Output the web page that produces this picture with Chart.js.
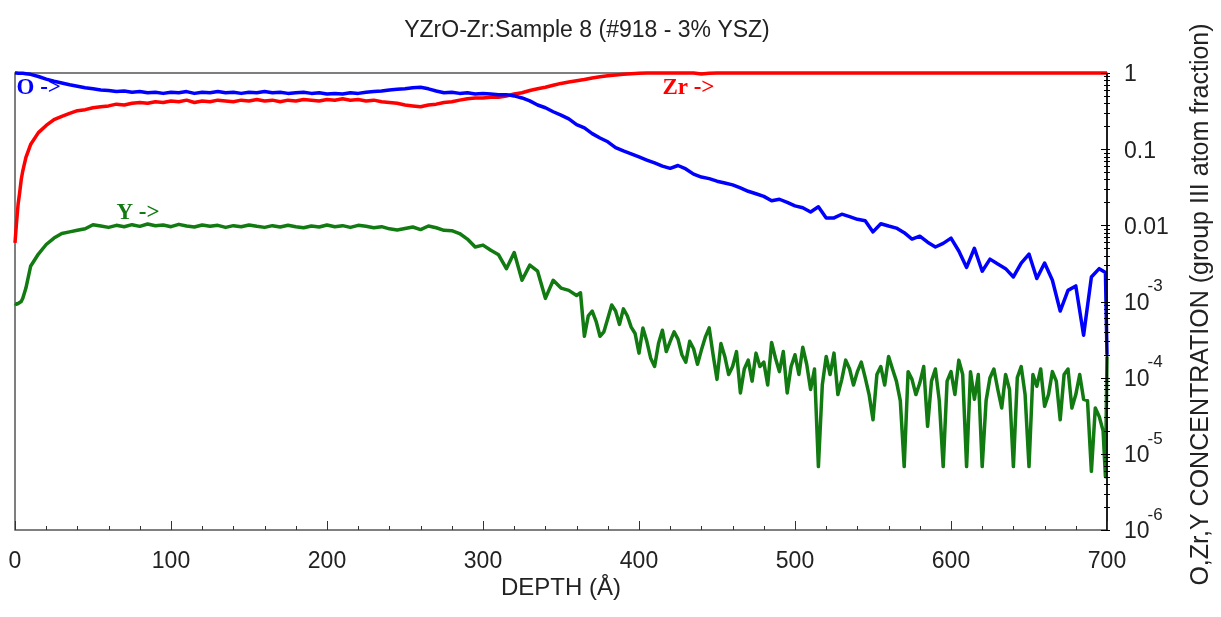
<!DOCTYPE html>
<html lang="en">
<head>
<meta charset="UTF-8">
<title>YZrO-Zr:Sample 8 (#918 - 3% YSZ)</title>
<script src="https://cdn.jsdelivr.net/npm/chart.js"></script>
<style>
  body { margin: 0; background: #fff; }
</style>
</head>
<body>
<canvas id="grafica" width="1221" height="617"></canvas>
<script>
// depth in Angstrom (O and Zr profiles)
const depth = [
  0, 1, 2, 3, 4, 5, 7, 10,
  15, 20, 25, 30, 35, 40, 45, 50, 55, 60,
  65, 70, 75, 80, 85, 90, 95, 100, 105, 110,
  115, 120, 125, 130, 135, 140, 145, 150, 155, 160,
  165, 170, 175, 180, 185, 190, 195, 200, 205, 210,
  215, 220, 225, 230, 235, 240, 245, 250, 255, 260,
  265, 270, 275, 280, 285, 290, 295, 300, 305, 310,
  315, 320, 325, 330, 335, 340, 345, 350, 355, 360,
  365, 370, 375, 380, 385, 390, 395, 400, 405, 410,
  415, 420, 425, 430, 435, 440, 445, 450, 455, 460,
  465, 470, 475, 480, 485, 490, 495, 500, 505, 510,
  515, 520, 525, 530, 535, 540, 545, 550, 555, 560,
  565, 570, 575, 580, 585, 590, 595, 600, 605, 610,
  615, 620, 625, 630, 635, 640, 645, 650, 655, 660,
  665, 670, 675, 680, 685, 690, 695,
  699, 700
];

// O concentration
const oxygen = [
  1.0, 1.0, 0.99, 0.99, 0.99, 0.99, 0.98, 0.96,
  0.90, 0.83, 0.78, 0.74, 0.70, 0.67, 0.64, 0.62, 0.60, 0.59,
  0.57, 0.58, 0.56, 0.57, 0.55, 0.56, 0.54, 0.56, 0.55, 0.57,
  0.54, 0.56, 0.55, 0.57, 0.55, 0.56, 0.54, 0.56, 0.55, 0.57,
  0.55, 0.56, 0.54, 0.55, 0.56, 0.54, 0.55, 0.53, 0.54, 0.53,
  0.55, 0.54, 0.56, 0.57, 0.58, 0.60, 0.61, 0.62, 0.64, 0.65,
  0.62, 0.58, 0.55, 0.56, 0.54, 0.55, 0.53, 0.54, 0.53, 0.52,
  0.52, 0.50, 0.47, 0.43, 0.38, 0.35, 0.31, 0.28, 0.25, 0.21,
  0.19, 0.16, 0.14, 0.125, 0.105, 0.095, 0.087, 0.079, 0.072, 0.066,
  0.060, 0.056, 0.061, 0.055, 0.047, 0.043, 0.041, 0.038, 0.036, 0.034,
  0.031, 0.028, 0.026, 0.024, 0.021, 0.022, 0.020, 0.018, 0.017, 0.015,
  0.0175, 0.0125, 0.0125, 0.014, 0.013, 0.012, 0.0115, 0.0082, 0.0105, 0.0098,
  0.0092, 0.0080, 0.0066, 0.0072, 0.0060, 0.0052, 0.0058, 0.0068, 0.0046, 0.0028,
  0.0050, 0.0025, 0.0036, 0.0031, 0.0027, 0.0021, 0.0032, 0.0042, 0.0020, 0.0032,
  0.0019, 0.00075, 0.0014, 0.0016, 0.00036, 0.0021, 0.0027,
  0.0024, 0.0002
];

// Zr concentration
const zirconium = [
  0.0059, 0.011, 0.019, 0.027, 0.040, 0.052, 0.078, 0.115,
  0.165, 0.205, 0.245, 0.27, 0.295, 0.32, 0.33, 0.35, 0.36, 0.37,
  0.39, 0.38, 0.40, 0.41, 0.40, 0.42, 0.41, 0.43, 0.42, 0.44,
  0.41, 0.43, 0.42, 0.44, 0.43, 0.42, 0.44, 0.43, 0.45, 0.43,
  0.44, 0.42, 0.44, 0.43, 0.45, 0.44, 0.43, 0.45, 0.44, 0.46,
  0.44, 0.45, 0.43, 0.44, 0.42, 0.41, 0.40, 0.38, 0.37, 0.36,
  0.38, 0.39, 0.41, 0.42, 0.44, 0.46, 0.47, 0.47, 0.48, 0.48,
  0.50, 0.53, 0.55, 0.59, 0.62, 0.65, 0.69, 0.73, 0.76, 0.79,
  0.82, 0.86, 0.89, 0.92, 0.94, 0.96, 0.98, 0.99, 1, 1,
  1, 1, 1, 1, 1, 0.97, 0.99, 1, 1, 1,
  1, 1, 1, 1, 1, 1, 1, 1, 1, 1,
  1, 1, 1, 1, 1, 1, 1, 1, 1, 1,
  1, 1, 1, 1, 1, 1, 1, 1, 1, 1,
  1, 1, 1, 1, 1, 1, 1, 1, 1, 1,
  1, 1, 1, 1, 1, 1, 1,
  1, 1
];

// depth for the Y profile, finer in the noisy tail
const depthY = [
  0, 1, 2, 3, 4, 5, 7, 10,
  15, 20, 25, 30, 35, 40, 45, 50, 55, 60,
  65, 70, 75, 80, 85, 90, 95, 100, 105, 110,
  115, 120, 125, 130, 135, 140, 145, 150, 155, 160,
  165, 170, 175, 180, 185, 190, 195, 200, 205, 210,
  215, 220, 225, 230, 235, 240, 245, 250, 255, 260,
  265, 270, 275, 280, 285, 290, 295, 300, 305, 310,
  315, 320, 325, 330, 335, 340, 345, 350, 355, 360,
  362.5, 365, 367.5, 370, 372.5, 375, 377.5, 380, 382.5, 385,
  387.5, 390, 392.5, 395, 397.5, 400, 402.5, 405, 407.5, 410,
  412.5, 415, 417.5, 420, 422.5, 425, 427.5, 430, 432.5, 435,
  437.5, 440, 442.5, 445, 447.5, 450, 452.5, 455, 457.5, 460,
  462.5, 465, 467.5, 470, 472.5, 475, 477.5, 480, 482.5, 485,
  487.5, 490, 492.5, 495, 497.5, 500, 502.5, 505, 507.5, 510,
  512.5, 515, 517.5, 520, 522.5, 525, 527.5, 530, 532.5, 535,
  537.5, 540, 542.5, 545, 547.5, 550, 552.5, 555, 557.5, 560,
  562.5, 565, 567.5, 570, 572.5, 575, 577.5, 580, 582.5, 585,
  587.5, 590, 592.5, 595, 597.5, 600, 602.5, 605, 607.5, 610,
  612.5, 615, 617.5, 620, 622.5, 625, 627.5, 630, 632.5, 635,
  637.5, 640, 642.5, 645, 647.5, 650, 652.5, 655, 657.5, 660,
  662.5, 665, 667.5, 670, 672.5, 675, 677.5, 680, 682.5, 685,
  687.5, 690, 692.5, 695, 697.5,
  699, 700
];

// Y concentration
const yttrium = [
  0.00095, 0.00092, 0.00094, 0.00097, 0.0010, 0.0011, 0.0015, 0.0029,
  0.0042, 0.0056, 0.0068, 0.0078, 0.0082, 0.0086, 0.0090, 0.0102, 0.0098, 0.0094,
  0.0100, 0.0096, 0.0102, 0.0097, 0.0104, 0.0099, 0.0101, 0.0096, 0.0103, 0.0098,
  0.0095, 0.0101, 0.0097, 0.0100, 0.0094, 0.0099, 0.0096, 0.0101, 0.0097, 0.0094,
  0.0099, 0.0095, 0.0100, 0.0096, 0.0093, 0.0098, 0.0095, 0.0101, 0.0096, 0.0099,
  0.0094, 0.0100, 0.0097, 0.0093, 0.0096, 0.0090, 0.0087, 0.0091, 0.0095, 0.0088,
  0.0098, 0.0093, 0.0086, 0.0085, 0.0078, 0.0066, 0.0052, 0.0055, 0.0047, 0.0041,
  0.0027, 0.0044, 0.0019, 0.0030, 0.0025, 0.0011, 0.0019, 0.0015, 0.0014, 0.0012,
  0.0013, 0.00035, 0.00065, 0.00075, 0.00055, 0.00035, 0.00040, 0.00060, 0.00090, 0.00075,
  0.00050, 0.00080, 0.00065, 0.00046, 0.00038, 0.00021, 0.00045, 0.00030, 0.00018, 0.00014,
  0.00028, 0.00042, 0.00022, 0.00030, 0.00040, 0.00032, 0.00020, 0.00016, 0.00030, 0.00024,
  0.00015, 0.00023, 0.00034, 0.00045, 0.00020, 0.000095, 0.00028, 0.00019, 0.00011, 0.00014,
  0.00022, 0.000063, 0.00013, 0.00017, 0.00009, 0.00021, 0.00014, 0.00016, 0.00008, 0.00029,
  0.00018, 0.00012, 0.00022, 0.000063, 0.00014, 0.00020, 0.00011, 0.00025, 0.00015, 0.00007,
  0.00013, 0.0000068, 0.00008, 0.00019, 0.00011, 0.00021, 0.00006, 0.000095, 0.00017, 0.00013,
  0.00008, 0.00012, 0.00016, 0.00010, 0.00006, 0.000028, 0.00011, 0.00014, 0.00008, 0.00019,
  0.00013, 0.00009, 0.00005, 0.0000068, 0.00012, 0.000095, 0.00006, 0.000085, 0.00014, 0.000023,
  0.00009, 0.00013, 0.00005, 0.0000068, 0.00009, 0.00012, 0.00006, 0.00017, 0.00011, 0.0000068,
  0.00012, 0.000052, 0.00011, 0.0000068, 0.00005, 0.00010, 0.00013, 0.00007, 0.00004, 0.00011,
  0.00007, 0.0000068, 0.00010, 0.00014, 0.00006, 0.0000068, 0.00011, 0.000077, 0.00013, 0.000042,
  0.00006, 0.00012, 0.00009, 0.000028, 0.00011, 0.00013, 0.00004, 0.00006, 0.00011, 0.000052,
  0.00005, 0.0000059, 0.00004, 0.000031, 0.00002,
  0.0000050, 0.00019
];

const xLabels = [0, 100, 200, 300, 400, 500, 600, 700];
const decades = [1, 0.1, 0.01, 1e-3, 1e-4, 1e-5, 1e-6];
const decadeText = ['1', '0.1', '0.01', '10', '10', '10', '10'];
const decadeSup = ['', '', '', '-3', '-4', '-5', '-6'];

const BLUE = '#0000ff';
const RED = '#ff0000';
const GREEN = '#117a11';

// curve name tags, placed in data coordinates
const tags = [
  { text: 'O ->', depth: 1, conc: 0.636, color: BLUE },
  { text: 'Zr ->', depth: 415, conc: 0.636, color: RED },
  { text: 'Y ->', depth: 65, conc: 0.0146, color: GREEN }
];

const SANS = '"Liberation Sans", Arial, sans-serif';

function serie(xs, values) {
  return xs.map((d, i) => ({ x: d, y: values[i] }));
}

const decor = {
  id: 'decor',
  beforeDatasetsDraw(chart) {
    const { ctx, chartArea: a } = chart;
    ctx.save();
    ctx.strokeStyle = '#555';
    ctx.lineWidth = 1.5;
    ctx.strokeRect(a.left, a.top, a.right - a.left, a.bottom - a.top);
    ctx.restore();
  },
  afterDraw(chart) {
    const { ctx, chartArea: a, scales: { x, y } } = chart;
    ctx.save();

    // right axis
    ctx.strokeStyle = '#000';
    ctx.lineWidth = 1.5;
    ctx.beginPath();
    ctx.moveTo(a.right, a.top);
    ctx.lineTo(a.right, a.bottom);
    ctx.stroke();

    // x ticks, pointing into the plot
    ctx.lineWidth = 1;
    ctx.strokeStyle = '#333';
    ctx.beginPath();
    for (let d = 0; d <= 700; d += 20) {
      const px = Math.round(x.getPixelForValue(d)) + 0.5;
      const len = d % 100 === 0 ? 9 : 4;
      ctx.moveTo(px, a.bottom);
      ctx.lineTo(px, a.bottom - len);
    }
    ctx.stroke();

    // log ticks on the right axis
    ctx.strokeStyle = '#000';
    ctx.beginPath();
    decades.forEach(v => {
      const py = Math.round(y.getPixelForValue(v)) + 0.5;
      ctx.moveTo(a.right - 6, py);
      ctx.lineTo(a.right + 3, py);
      if (v < 1) {
        for (let m = 2; m <= 9; m++) {
          const pm = Math.round(y.getPixelForValue(v * m)) + 0.5;
          ctx.moveTo(a.right - 3, pm);
          ctx.lineTo(a.right + 3, pm);
        }
      }
    });
    ctx.stroke();

    // right axis labels
    ctx.fillStyle = '#222';
    ctx.textBaseline = 'middle';
    ctx.textAlign = 'left';
    decades.forEach((v, i) => {
      const py = y.getPixelForValue(v) + 2;
      const lx = a.right + 17;
      ctx.font = '23px ' + SANS;
      ctx.fillText(decadeText[i], lx, py);
      if (decadeSup[i]) {
        const w = ctx.measureText(decadeText[i]).width;
        ctx.font = '17px ' + SANS;
        ctx.fillText(decadeSup[i], lx + w - 2, py - 17);
      }
    });

    // right axis title, reading upward
    ctx.save();
    ctx.translate(1201, (a.top + a.bottom) / 2 + 3);
    ctx.rotate(-Math.PI / 2);
    ctx.textAlign = 'center';
    ctx.font = '25px ' + SANS;
    ctx.fillText('O,Zr,Y CONCENTRATION (group III atom fraction)', 0, 0);
    ctx.restore();

    // chart title
    ctx.textAlign = 'center';
    ctx.font = '23px ' + SANS;
    ctx.fillText('YZrO-Zr:Sample 8 (#918 - 3% YSZ)', 587, 31);

    // curve tags
    ctx.textAlign = 'left';
    ctx.font = 'bold 23px "Liberation Serif", "Times New Roman", serif';
    tags.forEach(t => {
      ctx.fillStyle = t.color;
      ctx.fillText(t.text, x.getPixelForValue(t.depth), y.getPixelForValue(t.conc));
    });

    ctx.restore();
  }
};

new Chart(document.getElementById('grafica'), {
  type: 'line',
  data: {
    datasets: [
      { label: 'O', data: serie(depth, oxygen), borderColor: BLUE },
      { label: 'Zr', data: serie(depth, zirconium), borderColor: RED },
      { label: 'Y', data: serie(depthY, yttrium), borderColor: GREEN }
    ]
  },
  options: {
    responsive: false,
    animation: false,
    layout: { padding: { top: 73, left: 15, right: 0, bottom: 0 } },
    elements: {
      line: { borderWidth: 3.5, tension: 0, borderJoinStyle: 'round' },
      point: { radius: 0, hoverRadius: 0 }
    },
    datasets: { line: { clip: 4 } },
    plugins: {
      legend: { display: false },
      tooltip: { enabled: false },
      title: { display: false }
    },
    scales: {
      x: {
        type: 'linear',
        min: 0,
        max: 700,
        grid: { display: false, drawTicks: false },
        border: { display: false },
        ticks: {
          stepSize: 100,
          padding: 18,
          color: '#222',
          font: { size: 23, family: SANS },
          maxRotation: 0,
          callback: v => xLabels.includes(v) ? String(v) : ''
        },
        title: {
          display: true,
          text: 'DEPTH (Å)',
          color: '#222',
          font: { size: 24, family: SANS },
          padding: { top: 0, bottom: 14 }
        },
        afterFit: s => {
          s.height = 87;
          s.paddingLeft = 0;
          s.paddingRight = 0;
        }
      },
      y: {
        type: 'logarithmic',
        position: 'right',
        min: 1e-6,
        max: 1,
        grid: { display: false, drawTicks: false },
        border: { display: false },
        ticks: { display: false },
        afterFit: s => { s.width = 114; }
      }
    }
  },
  plugins: [decor]
});
</script>
</body>
</html>
